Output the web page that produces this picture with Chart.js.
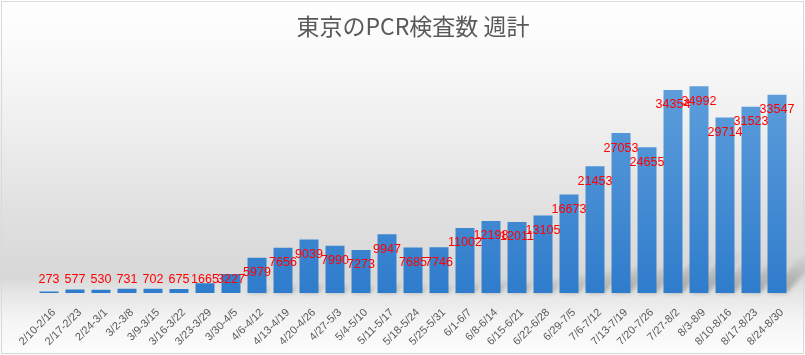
<!DOCTYPE html>
<html>
<head>
<meta charset="utf-8">
<script src="https://cdn.jsdelivr.net/npm/chart.js@4/dist/chart.umd.min.js"></script>
<style>
html,body{margin:0;padding:0;background:#fff;}
#wrap{position:relative;width:805px;height:355px;}
</style>
</head>
<body>
<div id="wrap"><canvas id="c" width="805" height="355"></canvas></div>
<script>
const chartTitle = "東京のPCR検査数 週計";
const categories = ["2/10-2/16","2/17-2/23","2/24-3/1","3/2-3/8","3/9-3/15","3/16-3/22","3/23-3/29","3/30-4/5","4/6-4/12","4/13-4/19","4/20-4/26","4/27-5/3","5/4-5/10","5/11-5/17","5/18-5/24","5/25-5/31","6/1-6/7","6/8-6/14","6/15-6/21","6/22-6/28","6/29-7/5","7/6-7/12","7/13-7/19","7/20-7/26","7/27-8/2","8/3-8/9","8/10-8/16","8/17-8/23","8/24-8/30"];
const pcrCounts = [273,577,530,731,702,675,1665,3227,5979,7656,9039,7990,7273,9947,7685,7746,11002,12198,12011,13105,16673,21453,27053,24655,34354,34992,29714,31523,33547];
const yMax = 40000;

const bgPlugin = {
  id: 'bg',
  beforeDraw(chart) {
    const ctx = chart.ctx, w = chart.width, h = chart.height;
    ctx.save();
    const g = ctx.createLinearGradient(0, 0, 0, h);
    g.addColorStop(0, '#ffffff');
    g.addColorStop(0.12, '#fbfbfb');
    g.addColorStop(0.35, '#efefef');
    g.addColorStop(0.6, '#e0e0e0');
    g.addColorStop(0.78, '#d8d8d8');
    g.addColorStop(0.83, '#e6e6e6');
    g.addColorStop(0.9, '#f4f4f4');
    g.addColorStop(1, '#fdfdfd');
    ctx.fillStyle = g;
    ctx.fillRect(0, 0, w, h);
    ctx.strokeStyle = '#d9d9d9';
    ctx.lineWidth = 1;
    ctx.strokeRect(1.5, 1.5, w - 3, h - 3);
    ctx.restore();
  },
  beforeDatasetsDraw(chart) {
    const ctx = chart.ctx;
    const meta = chart.getDatasetMeta(0);
    ctx.save();
    ctx.filter = 'blur(2px)';
    meta.data.forEach(bar => {
      const hgt = bar.base - bar.y;
      const sh = hgt * 0.2;
      if (sh < 4) return;
      const dx = sh * 0.9;
      const l = bar.x - bar.width / 2, r = bar.x + bar.width / 2;
      const g = ctx.createLinearGradient(0, bar.base, 0, bar.base - sh);
      g.addColorStop(0, 'rgba(90,90,90,0.45)');
      g.addColorStop(1, 'rgba(90,90,90,0)');
      ctx.fillStyle = g;
      ctx.beginPath();
      ctx.moveTo(l, bar.base);
      ctx.lineTo(r, bar.base);
      ctx.lineTo(r + dx, bar.base - sh);
      ctx.lineTo(l + dx, bar.base - sh);
      ctx.closePath();
      ctx.fill();
    });
    ctx.restore();
  },
  afterDatasetsDraw(chart) {
    const ctx = chart.ctx;
    const meta = chart.getDatasetMeta(0);
    const vals = chart.data.datasets[0].data;
    ctx.save();
    ctx.font = '12.5px "Liberation Sans", Arial, sans-serif';
    ctx.fillStyle = '#ff0000';
    ctx.textAlign = 'center';
    ctx.textBaseline = 'middle';
    meta.data.forEach((bar, i) => {
      const y = Math.min(bar.y + 15, bar.base - 13);
      ctx.fillText(String(vals[i]), bar.x, y);
    });
    ctx.restore();
  }
};

const ctx = document.getElementById('c').getContext('2d');
new Chart(ctx, {
  type: 'bar',
  data: {
    labels: categories,
    datasets: [{
      data: pcrCounts,
      backgroundColor: (c) => {
        const ch = c.chart, area = ch.chartArea;
        if (!area) return '#4a90d6';
        const g = ch.ctx.createLinearGradient(0, area.top, 0, area.bottom);
        g.addColorStop(0, '#64a3dd');
        g.addColorStop(1, '#2f7ccc');
        return g;
      },
      borderWidth: 0,
      categoryPercentage: 1,
      barPercentage: 0.73
    }]
  },
  options: {
    responsive: false,
    animation: false,
    events: [],
    layout: { padding: { left: 36, right: 15, top: 0, bottom: 7 } },
    plugins: {
      legend: { display: false },
      tooltip: { enabled: false },
      title: {
        display: true,
        text: chartTitle,
        color: '#595959',
        font: { family: '"Noto Sans CJK JP", "Noto Sans", sans-serif', size: 23, weight: 'normal' },
        padding: { top: 12, bottom: 17 }
      }
    },
    scales: {
      x: {
        grid: { display: false },
        border: { display: false },
        ticks: {
          color: '#595959',
          font: { family: '"Liberation Sans", Arial, sans-serif', size: 11 },
          minRotation: 45,
          maxRotation: 45,
          autoSkip: false,
          padding: 5,
          labelOffset: 5
        },
        afterFit(scale) { scale.height = 55; }
      },
      y: {
        display: false,
        min: 0,
        max: yMax
      }
    }
  },
  plugins: [bgPlugin]
});
</script>
</body>
</html>
